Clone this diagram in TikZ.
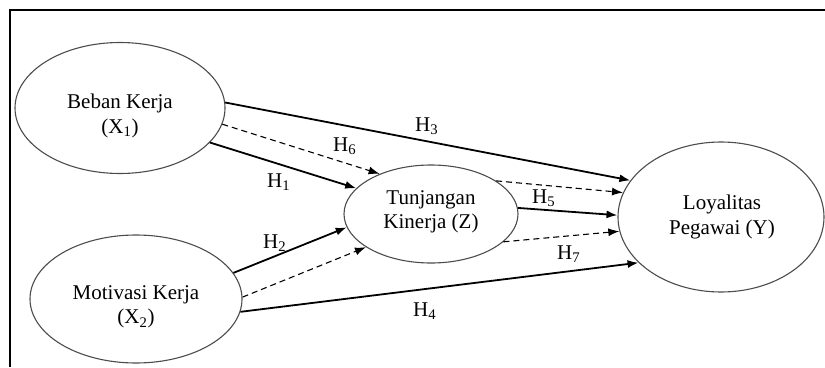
\documentclass[tikz,border=0pt]{standalone}
\usepackage{fontspec}
\setmainfont{Liberation Serif}
\usetikzlibrary{shapes.geometric,arrows.meta}
\begin{document}
\begin{tikzpicture}[x=1pt,y=-1pt,
  ell/.style={ellipse,draw=black!70,line width=1.1pt,inner sep=0pt},
  txt/.style={align=center,font=\fontsize{21}{24.5}\selectfont,inner sep=0pt},
  hlab/.style={font=\fontsize{21}{24}\selectfont,inner sep=0pt,anchor=base west},
  solidarr/.style={line width=1.8pt,-{Latex[length=11pt,width=8pt]}},
  dasharr/.style={line width=1.1pt,dash pattern=on 6pt off 4pt,-{Latex[length=11pt,width=8pt]}},
  frameline/.style={line width=1.5pt}]
\useasboundingbox (0,0) rectangle (825,367);
% frame
\coordinate (f1) at (10,367);
\coordinate (f2) at (10,10);
\coordinate (f3) at (825,10);
\draw[frameline] (f1) -- (f2) -- (f3);
% ellipses
\node[ell,minimum width=210pt,minimum height=131pt] (b) at (120,108) {};
\node[ell,minimum width=212pt,minimum height=128pt] (m) at (136,299) {};
\node[ell,minimum width=174pt,minimum height=98pt] (t) at (431,214) {};
\node[ell,minimum width=206pt,minimum height=150pt] (l) at (721,217) {};
% texts
\node[txt] (bt) at (120,116) {Beban Kerja\\(X\textsubscript{1})};
\node[txt] (mt) at (136,307) {Motivasi Kerja\\(X\textsubscript{2})};
\node[txt] (tt) at (431,212) {Tunjangan\\Kinerja (Z)};
\node[txt] (lt) at (722,217) {Loyalitas\\Pegawai (Y)};
% connectors
\draw[solidarr] (b.3) -- (l.158);
\draw[dasharr] (b.-9) -- (t.142);
\draw[solidarr] (b.-21) -- (t.161);
\draw[solidarr] (m.15.6) -- (t.189.6);
\draw[dasharr] (m.1) -- (t.207.6);
\draw[solidarr] (m.-7) -- (l.209);
\draw[dasharr] (t.27) -- (l.166.6);
\draw[solidarr] (t.4) -- (l.179);
\draw[dasharr] (t.-21) -- (l.188.3);
% labels
\node[hlab] (h3) at (415,131) {H\textsubscript{3}};
\node[hlab] (h6) at (333,151) {H\textsubscript{6}};
\node[hlab] (h1) at (267,187) {H\textsubscript{1}};
\node[hlab] (h2) at (263,248) {H\textsubscript{2}};
\node[hlab] (h5) at (532,203) {H\textsubscript{5}};
\node[hlab] (h7) at (557,259) {H\textsubscript{7}};
\node[hlab] (h4) at (413,316) {H\textsubscript{4}};
\end{tikzpicture}
\end{document}
